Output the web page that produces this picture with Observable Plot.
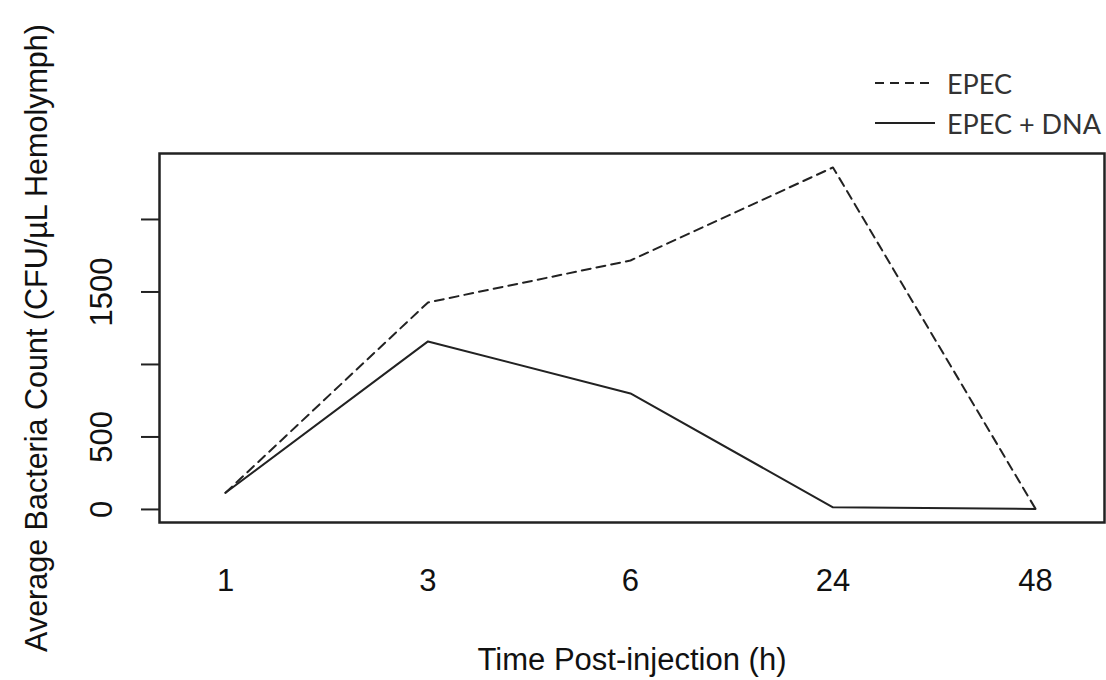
<!DOCTYPE html>
<html>
<head>
<meta charset="utf-8">
<script src="https://cdn.jsdelivr.net/npm/d3@7"></script>
<script src="https://cdn.jsdelivr.net/npm/@observablehq/plot@0.6"></script>
<style>
  html, body { margin: 0; padding: 0; background: #fff; }
  #wrap { position: relative; width: 1106px; height: 680px; overflow: hidden; }
  #legend { position: absolute; left: 870px; top: 63px; }
</style>
</head>
<body>
<div id="wrap"></div>
<script>
// ---- data ----
const timeLabels = ["1", "3", "6", "24", "48"];
const epec = [115, 1428, 1717, 2359, 5];
const epecDna = [115, 1159, 800, 15, 3];
const yTicks = [0, 500, 1000, 1500, 2000];
const yTickLabels = [0, 500, 1500];
const seriesNames = ["EPEC", "EPEC + DNA"];
const xTitle = "Time Post-injection (h)";
const yTitle = "Average Bacteria Count (CFU/\u00B5L Hemolymph)";

const rowsEpec = timeLabels.map((t, i) => ({i: i + 1, t, v: epec[i]}));
const rowsDna = timeLabels.map((t, i) => ({i: i + 1, t, v: epecDna[i]}));
const xIdx = timeLabels.map((t, i) => ({i: i + 1, t}));

const font = "'Liberation Sans', Arial, sans-serif";

const chart = Plot.plot({
  width: 1106,
  height: 680,
  marginLeft: 159,
  marginRight: 2,
  marginTop: 153,
  marginBottom: 158,
  style: {fontFamily: font, fontSize: "31px", color: "#111", background: "white"},
  x: {type: "linear", domain: [0.674, 5.341], axis: null},
  y: {type: "linear", domain: [-90, 2455], axis: null},
  marks: [
    Plot.axisY(yTicks, {tickSize: 18, tickFormat: () => "", label: null, stroke: "#222", strokeWidth: 2}),
    Plot.text(yTickLabels, {y: d => d, text: d => String(d), frameAnchor: "left", dx: -57, rotate: -90, textAnchor: "middle", lineAnchor: "middle", fontSize: 31, fill: "#111"}),
    Plot.text(xIdx, {x: "i", text: "t", frameAnchor: "bottom", dy: 59, lineAnchor: "middle", fontSize: 31, fill: "#111"}),
    Plot.text([xTitle], {text: d => d, frameAnchor: "bottom", dy: 138, lineAnchor: "middle", fontSize: 31, fill: "#111"}),
    Plot.text([yTitle], {text: d => d, frameAnchor: "left", dx: -122, rotate: -90, lineAnchor: "middle", textAnchor: "middle", fontSize: 30.5, fill: "#111"}),
    Plot.line(rowsEpec, {x: "i", y: "v", stroke: "#222", strokeWidth: 2, strokeDasharray: "9,6"}),
    Plot.line(rowsDna, {x: "i", y: "v", stroke: "#222", strokeWidth: 2}),
    Plot.frame({stroke: "#222", strokeWidth: 2.5})
  ]
});

const wrap = document.getElementById("wrap");
wrap.appendChild(chart);

// legend (outside the plot SVG)
const ns = "http://www.w3.org/2000/svg";
const leg = document.createElementNS(ns, "svg");
leg.setAttribute("id", "legend");
leg.setAttribute("width", "236");
leg.setAttribute("height", "80");
const dashes = ["9,6", null];
seriesNames.forEach((name, k) => {
  const yy = 20 + k * 40;
  const ln = document.createElementNS(ns, "line");
  ln.setAttribute("x1", 5); ln.setAttribute("x2", 65);
  ln.setAttribute("y1", yy); ln.setAttribute("y2", yy);
  ln.setAttribute("stroke", "#222"); ln.setAttribute("stroke-width", "2");
  if (dashes[k]) ln.setAttribute("stroke-dasharray", dashes[k]);
  leg.appendChild(ln);
  const tx = document.createElementNS(ns, "text");
  tx.setAttribute("x", 77); tx.setAttribute("y", yy);
  tx.setAttribute("dominant-baseline", "central");
  tx.setAttribute("font-family", "Lato, 'Open Sans', sans-serif");
  tx.setAttribute("font-size", "27");
  tx.setAttribute("fill", "#333");
  tx.textContent = name;
  leg.appendChild(tx);
});
wrap.appendChild(leg);
</script>
</body>
</html>
